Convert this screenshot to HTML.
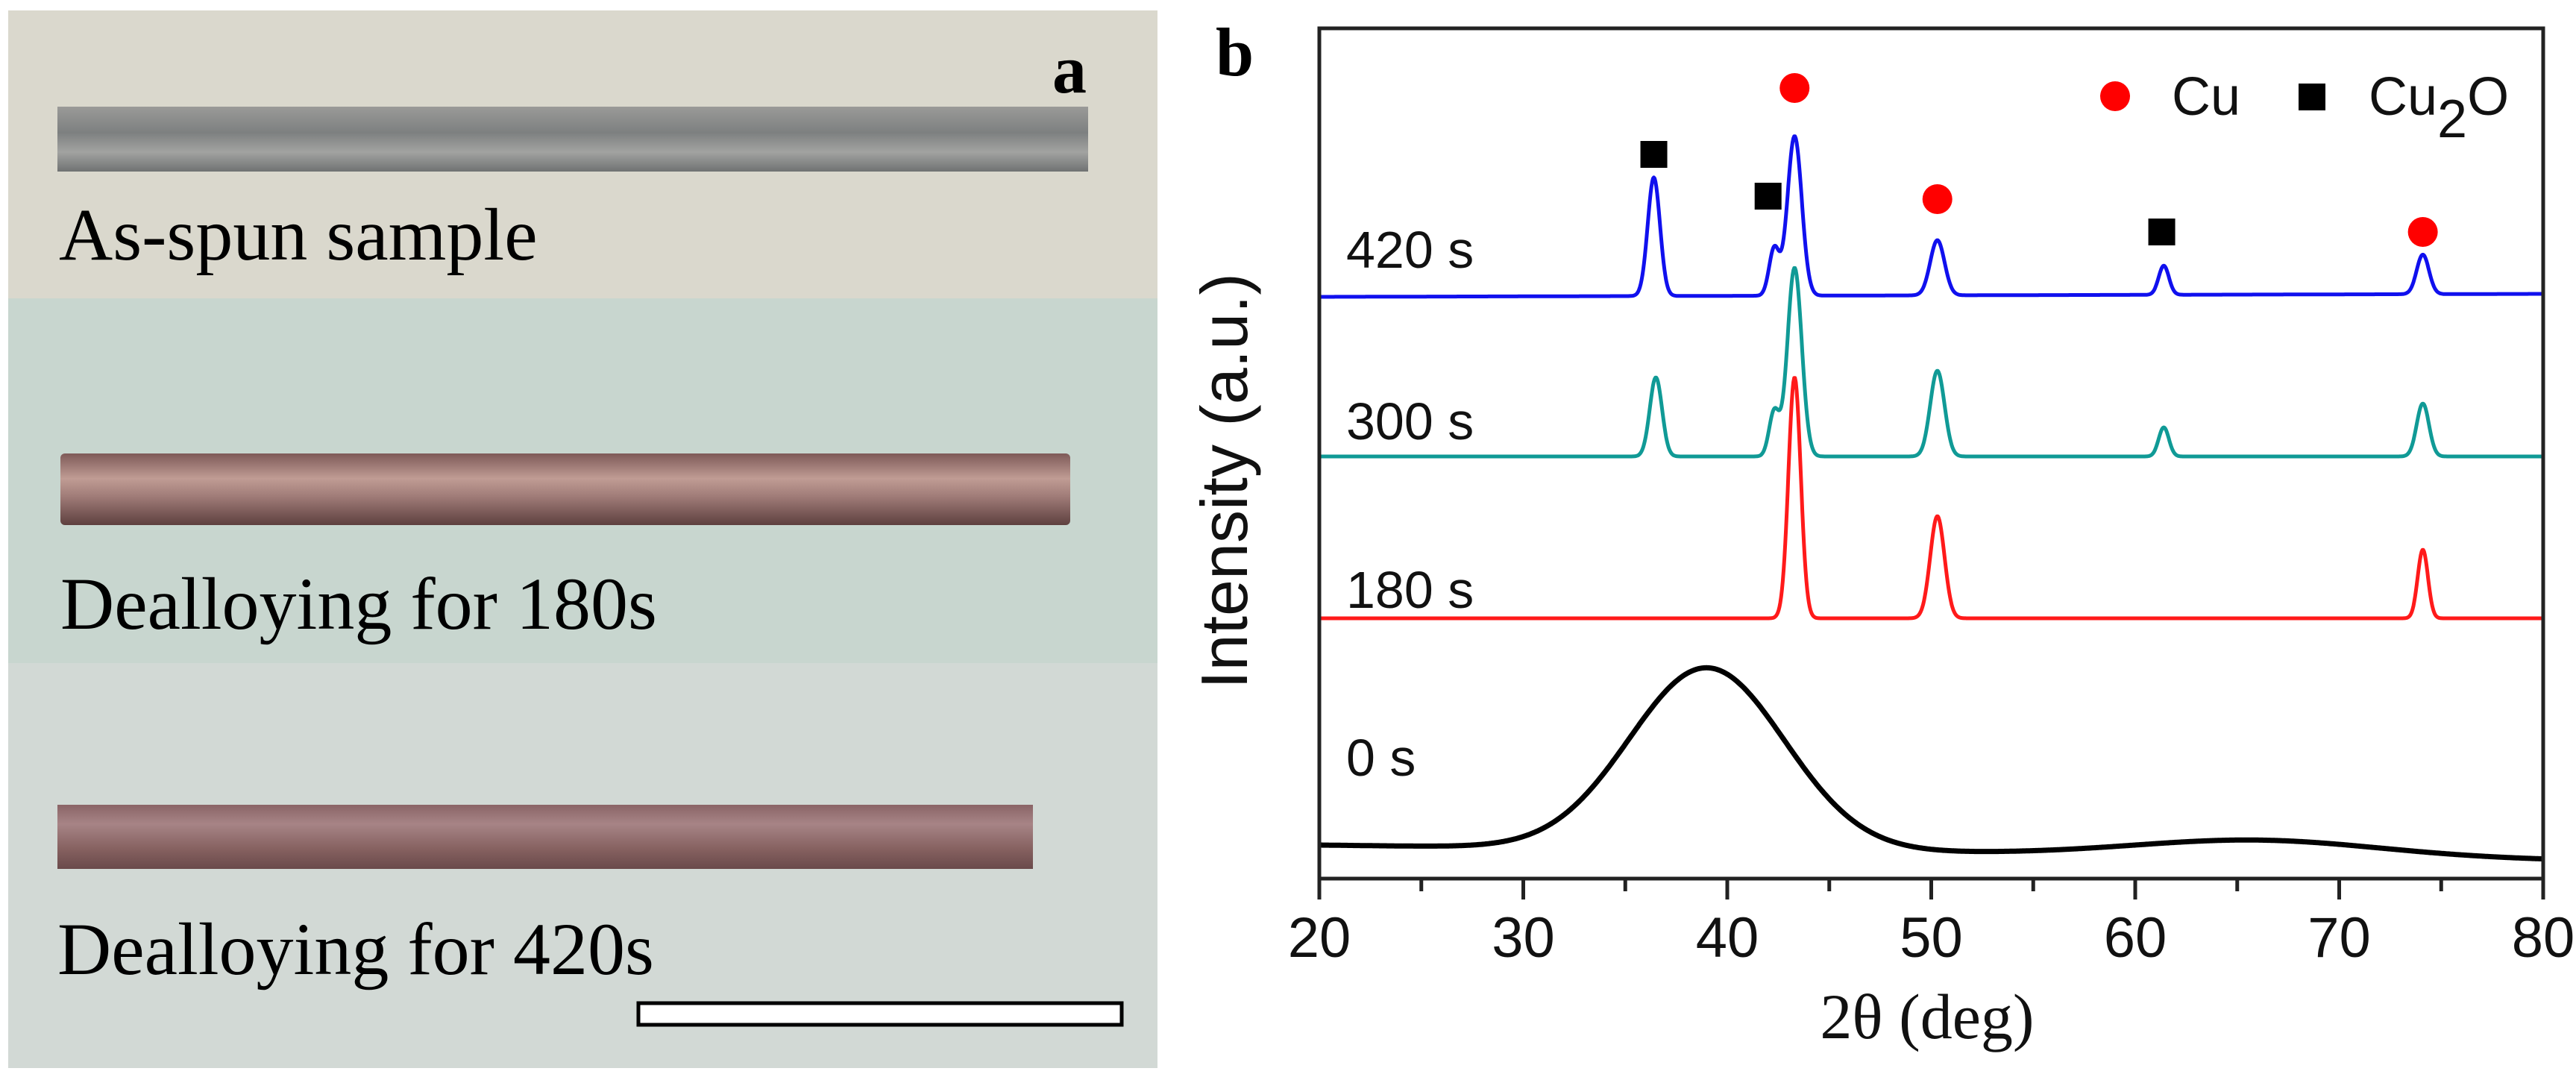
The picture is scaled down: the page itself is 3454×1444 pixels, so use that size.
<!DOCTYPE html>
<html><head><meta charset="utf-8"><style>
html,body{margin:0;padding:0;background:#fff;}
svg{display:block;}
</style></head><body>
<svg id="fig" width="3454" height="1444" viewBox="0 0 3454 1444" xmlns="http://www.w3.org/2000/svg">
<defs>
<linearGradient id="rib1" x1="0" y1="0" x2="0" y2="1"><stop offset="0" stop-color="#9a9a98"/><stop offset="0.4" stop-color="#7d8080"/><stop offset="0.7" stop-color="#a2a3a1"/><stop offset="1" stop-color="#6f7272"/></linearGradient>
<linearGradient id="rib2" x1="0" y1="0" x2="0" y2="1"><stop offset="0" stop-color="#7e5a58"/><stop offset="0.35" stop-color="#c09c94"/><stop offset="0.6" stop-color="#a07c78"/><stop offset="1" stop-color="#5e403f"/></linearGradient>
<linearGradient id="rib3" x1="0" y1="0" x2="0" y2="1"><stop offset="0" stop-color="#8a6466"/><stop offset="0.3" stop-color="#a78486"/><stop offset="0.7" stop-color="#85605f"/><stop offset="1" stop-color="#6a4a4b"/></linearGradient>
</defs>
<g>
<rect x="11" y="14" width="1541" height="386" fill="#dad8cd"/>
<rect x="11" y="400" width="1541" height="489" fill="#c8d6cf"/>
<rect x="11" y="889" width="1541" height="543" fill="#d2d9d5"/>
<rect x="77" y="143" width="1382" height="87" fill="url(#rib1)"/>
<rect x="81" y="608" width="1354" height="96" rx="6" fill="url(#rib2)"/>
<rect x="77" y="1079" width="1308" height="86" fill="url(#rib3)"/>
<g font-family="'Liberation Serif',serif" font-size="100" fill="#000">
<text x="79" y="348">As-spun sample</text>
<text x="81" y="843">Dealloying for 180s</text>
<text x="77" y="1306">Dealloying for 420s</text>
</g>
<text x="1411" y="124" font-family="'Liberation Serif',serif" font-weight="bold" font-size="92">a</text>
<rect x="856" y="1345" width="648" height="29" fill="#fff" stroke="#000" stroke-width="5"/>
</g>
<g id="chart"></g>
</svg>
<script>
const xTicks = [20, 30, 40, 50, 60, 70, 80];
const xTickLabels = ["20", "30", "40", "50", "60", "70", "80"];
const seriesNames = ["0 s", "180 s", "300 s", "420 s"];
const seriesColors = ["#000000", "#ff1a1a", "#109a96", "#1010ee"];
const seriesBaseStart = [45, 349, 566, 780];
const seriesBaseEnd = [25, 349, 566, 784];
const peaks420Pos = [36.4, 42.3, 43.3, 50.3, 61.4, 74.1];
const peaks420Height = [159, 63, 214, 74, 39, 53];
const peaks420Width = [0.3, 0.25, 0.35, 0.35, 0.25, 0.3];
const peaks300Pos = [36.5, 42.3, 43.3, 50.3, 61.4, 74.1];
const peaks300Height = [106, 60, 253, 115, 39, 71];
const peaks300Width = [0.3, 0.25, 0.35, 0.35, 0.25, 0.3];
const peaks180Pos = [43.3, 50.3, 74.1];
const peaks180Height = [323, 137, 92];
const peaks180Width = [0.3, 0.35, 0.25];
const peaks0Pos = [39.0, 66.0];
const peaks0Height = [244, 22];
const peaks0Width = [3.8, 6.0];
const cuMarkerPos = [43.3, 50.3, 74.1];
const cuMarkerLevel = [1060, 911, 867];
const cu2oMarkerPos = [36.4, 42.0, 61.3];
const cu2oMarkerLevel = [971, 915, 867];

const X0=1769, X1=3410, Y0=1178, Y1=38;
const xs = v => X0 + (v-20)/(80-20)*(X1-X0);
const ys = v => Y0 - v;
const NS='http://www.w3.org/2000/svg';
const g=document.getElementById('chart');
function mk(tag, attrs){const e=document.createElementNS(NS,tag);for(const k in attrs)e.setAttribute(k,attrs[k]);g.appendChild(e);return e;}

const peakSets=[[peaks0Pos,peaks0Height,peaks0Width],[peaks180Pos,peaks180Height,peaks180Width],[peaks300Pos,peaks300Height,peaks300Width],[peaks420Pos,peaks420Height,peaks420Width]];
const labelY=[1040,815,589,359];
for(let s=0;s<4;s++){
  const [pp,ph,pw]=peakSets[s];
  let d='';
  for(let x=20;x<=80.0001;x+=0.04){
    let v=seriesBaseStart[s]+(seriesBaseEnd[s]-seriesBaseStart[s])*(x-20)/60;
    for(let i=0;i<pp.length;i++){v+=ph[i]*Math.exp(-((x-pp[i])**2)/(2*pw[i]*pw[i]));}
    d+=(d?'L':'M')+xs(x).toFixed(1)+' '+ys(v).toFixed(1);
  }
  const p=mk('path',{d:d,fill:'none',stroke:seriesColors[s],'stroke-width':s==0?7:5,'stroke-linejoin':'round'});
  
  
  const t=mk('text',{x:1805,y:labelY[s],'font-family':"'Liberation Sans',sans-serif",'font-size':70,fill:'#111'});
  t.textContent=seriesNames[s];
  
  
}
for(let i=0;i<cuMarkerPos.length;i++){
  const c=mk('circle',{cx:xs(cuMarkerPos[i]),cy:ys(cuMarkerLevel[i]),r:20,fill:'#ff0000'});
  
  
}
for(let i=0;i<cu2oMarkerPos.length;i++){
  const r=mk('rect',{x:xs(cu2oMarkerPos[i])-18,y:ys(cu2oMarkerLevel[i])-18,width:36,height:36,fill:'#000'});
  
  
}
// axes frame
const fr=mk('rect',{x:X0,y:Y1,width:X1-X0,height:Y0-Y1,fill:'none',stroke:'#222','stroke-width':5});


for(let v=20;v<=80;v+=5){
  const major=(v%10===0);
  const tk=mk('line',{x1:xs(v),x2:xs(v),y1:Y0,y2:Y0+(major?28:17),stroke:'#222','stroke-width':5});
  
  
}
for(let i=0;i<xTicks.length;i++){
  const t=mk('text',{x:xs(xTicks[i]),y:1283,'text-anchor':'middle','font-family':"'Liberation Sans',sans-serif",'font-size':76,fill:'#111'});
  t.textContent=xTickLabels[i];
  
  
}
const xt=mk('text',{x:2584,y:1392,'text-anchor':'middle','font-family':"'Liberation Serif',serif",'font-size':86,fill:'#111'});
xt.textContent='2θ (deg)';


const yt=mk('text',{x:0,y:0,'text-anchor':'middle','font-family':"'Liberation Sans',sans-serif",'font-size':88,fill:'#111',transform:'translate(1672,645) rotate(-90)'});
yt.textContent='Intensity (a.u.)';


const pb=mk('text',{x:1630,y:101,'font-family':"'Liberation Serif',serif",'font-weight':'bold','font-size':92,fill:'#000'});
pb.textContent='b';


// legend
const lc=mk('circle',{cx:2836,cy:129,r:20,fill:'#ff0000'});


const lt1=mk('text',{x:2912,y:154,'font-family':"'Liberation Sans',sans-serif",'font-size':72,fill:'#111'});
lt1.textContent='Cu';


const ls=mk('rect',{x:3082,y:112,width:36,height:36,fill:'#000'});


const lt2=mk('text',{x:3176,y:154,'font-family':"'Liberation Sans',sans-serif",'font-size':72,fill:'#111'});
lt2.innerHTML='Cu<tspan dy="30" font-size="72">2</tspan><tspan dy="-30">O</tspan>';


</script>
</body></html>
